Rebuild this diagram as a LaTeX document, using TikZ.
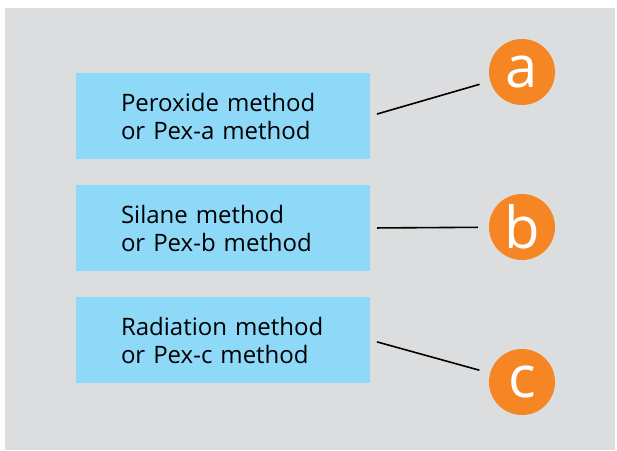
\documentclass[tikz,border=0pt]{standalone}
\usepackage{fontspec}
\setmainfont{Open Sans}
\definecolor{bggray}{HTML}{DCDDDF}
\definecolor{boxblue}{HTML}{8ED8F8}
\definecolor{dotorange}{HTML}{F58623}
\begin{document}
\begin{tikzpicture}[
		x = 1pt, y = -1pt,
		bx/.style   = {fill=boxblue, minimum width=294pt, minimum height=86pt,
			text width=204pt, inner xsep=45pt, align=left,
			font=\fontsize{24}{28}\selectfont},
		dt/.style   = {circle, fill=dotorange, minimum size=66pt, inner sep=0pt,
			text=white, font=\fontsize{58}{58}\selectfont},
		ln/.style   = {line width=1.6pt, shorten <=7pt, shorten >=11pt}
		]
		\useasboundingbox (0,0) rectangle (617,450);
		\fill[bggray] (5,8) rectangle (615,450);
		
		\node[bx] (b1) at (223,116) {Peroxide method\\or Pex-a method};
		\node[bx] (b2) at (223,228) {Silane method\\or Pex-b method};
		\node[bx] (b3) at (223,340) {Radiation method\\or Pex-c method};
		
		\node[dt] (ca) at (522, 72) {a};
		\node[dt] (cb) at (522,227) {b};
		\node[dt] (cc) at (522,382) {c};
		
		\draw[ln] (b1.east)--(ca);
		\draw[ln] (b2.east)--(cb);
		\draw[ln] (b3.east)--(cc);
	\end{tikzpicture}
\end{document}
